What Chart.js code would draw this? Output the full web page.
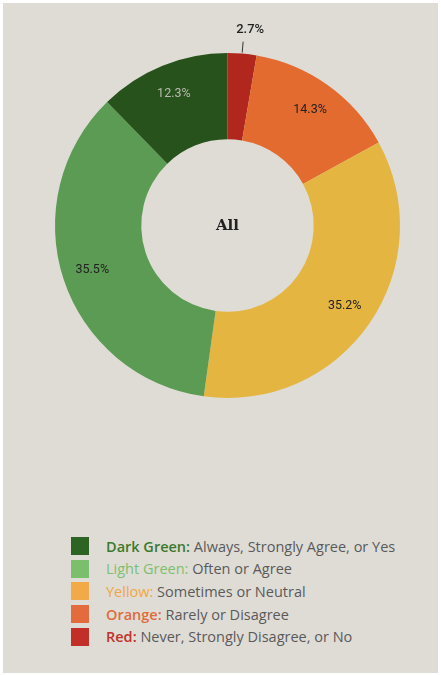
<!DOCTYPE html>
<html>
<head>
<meta charset="utf-8">
<script src="https://cdn.jsdelivr.net/npm/chart.js@4/dist/chart.umd.min.js"></script>
<style>
  body { margin: 0; background: #fff; }
  #panel { position: absolute; left: 3px; top: 3px; width: 435px; height: 670px; background: #dfdcd6; }
  #wrap { position: absolute; left: -3px; top: -3px; width: 441px; height: 452px; }
  #legend { position: absolute; left: 68px; top: 532px; font-family: "Open Sans", sans-serif; font-size: 14.5px; color: #5a5a5a; }
  .row { height: 22.6px; display: flex; align-items: center; white-space: nowrap; }
  .box { width: 18px; height: 18px; margin-right: 17px; }
</style>
</head>
<body>
<div id="panel">
  <div id="wrap"><canvas id="donut"></canvas></div>
  <div id="legend"></div>
</div>
<script>
// donut values, clockwise from the top
var labels = ["Red", "Orange", "Yellow", "Light Green", "Dark Green"];
var values = [2.7, 14.3, 35.2, 35.5, 12.3];
var sliceColors = ["#b1271d", "#e46b2f", "#e4b641", "#5c9b53", "#27521b"];
var labelColors = ["#222", "#222", "#222", "#222", "#b9b9b0"];

// legend (top to bottom)
var legendNames = ["Dark Green:", "Light Green:", "Yellow:", "Orange:", "Red:"];
var legendText = ["Always, Strongly Agree, or Yes", "Often or Agree", "Sometimes or Neutral", "Rarely or Disagree", "Never, Strongly Disagree, or No"];
var legendBoxColors = ["#2d6323", "#7bbf6c", "#f2a947", "#e36b3e", "#c12f28"];
var legendNameColors = ["#3b7a2d", "#7dc06e", "#f0a741", "#e06b3b", "#c0322a"];
var legendWeights = [600, 400, 400, 600, 600];

var legend = document.getElementById("legend");
legendNames.forEach(function (name, i) {
  var row = document.createElement("div");
  row.className = "row";
  row.innerHTML = '<div class="box" style="background:' + legendBoxColors[i] + '"></div>' +
    '<span style="color:' + legendNameColors[i] + ';font-weight:' + legendWeights[i] + '">' + name + '</span>&nbsp;' + legendText[i];
  legend.appendChild(row);
});

// percent labels + center text
var sliceLabels = {
  id: "sliceLabels",
  afterDatasetsDraw: function (chart) {
    var ctx = chart.ctx;
    var meta = chart.getDatasetMeta(0);
    ctx.save();
    ctx.textAlign = "center";
    ctx.textBaseline = "middle";
    meta.data.forEach(function (arc, i) {
      var p = arc.getProps(["x", "y", "startAngle", "endAngle", "innerRadius", "outerRadius"], true);
      var mid = (p.startAngle + p.endAngle) / 2;
      var txt = values[i].toFixed(1) + "%";
      if (values[i] < 5) {
        // small slice: label outside with a leader line
        ctx.strokeStyle = "#333";
        ctx.lineWidth = 1;
        ctx.beginPath();
        ctx.moveTo(p.x + Math.cos(mid) * (p.outerRadius + 1), p.y + Math.sin(mid) * (p.outerRadius + 1));
        ctx.lineTo(p.x + Math.cos(mid) * (p.outerRadius + 12), p.y + Math.sin(mid) * (p.outerRadius + 12));
        ctx.stroke();
        ctx.fillStyle = "#222";
        ctx.font = "500 13px Roboto";
        ctx.fillText(txt, p.x + Math.cos(mid) * (p.outerRadius + 24) + 6, p.y + Math.sin(mid) * (p.outerRadius + 24));
      } else {
        var r = p.innerRadius + (p.outerRadius - p.innerRadius) * 0.65;
        ctx.fillStyle = labelColors[i];
        ctx.font = "12.5px Roboto";
        ctx.fillText(txt, p.x + Math.cos(mid) * r, p.y + Math.sin(mid) * r);
      }
    });
    var c = meta.data[0];
    ctx.fillStyle = "#222";
    ctx.font = "bold 15px 'DejaVu Serif'";
    ctx.fillText("All", c.x, c.y + 1);
    ctx.restore();
  }
};

new Chart(document.getElementById("donut"), {
  type: "doughnut",
  data: {
    labels: labels,
    datasets: [{
      data: values,
      backgroundColor: sliceColors,
      borderWidth: 0
    }]
  },
  options: {
    responsive: true,
    maintainAspectRatio: false,
    animation: false,
    cutout: "50%",
    layout: { padding: { top: 53, bottom: 54, left: 14, right: 0 } },
    plugins: {
      legend: { display: false },
      tooltip: { enabled: false }
    }
  },
  plugins: [sliceLabels]
});
</script>
</body>
</html>
